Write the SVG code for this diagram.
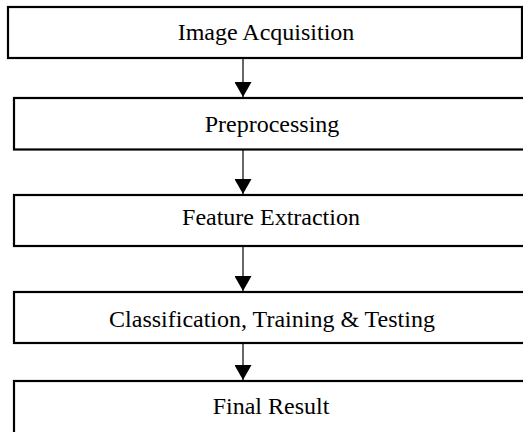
<svg xmlns="http://www.w3.org/2000/svg" width="523" height="432" viewBox="0 0 523 432">
<style>
.box{fill:#fff;stroke:#000;stroke-width:2.2}
.lbl{font-family:"Liberation Serif","Times New Roman",serif;font-size:24px;fill:#000;text-anchor:middle}
.conn{stroke:#000;stroke-width:1.2;fill:none}
</style>
<defs>
<marker id="ah" markerWidth="15" markerHeight="17" refX="15" refY="8.5" orient="auto" markerUnits="userSpaceOnUse">
<path d="M0,0 L15,8.5 L0,17 Z" fill="#000"/>
</marker>
</defs>
<rect width="523" height="432" fill="#fff"/>
<g id="n1"><rect class="box" x="8" y="7" width="514" height="51"/><text class="lbl" x="266" y="40">Image Acquisition</text></g>
<g id="n2"><rect class="box" x="14" y="98" width="520" height="51.5"/><text class="lbl" x="272" y="132">Preprocessing</text></g>
<g id="n3"><rect class="box" x="14" y="195" width="520" height="51"/><text class="lbl" x="271" y="225">Feature Extraction</text></g>
<g id="n4"><rect class="box" x="14" y="292" width="520" height="51"/><text class="lbl" x="272" y="327">Classification, Training &amp; Testing</text></g>
<g id="n5"><rect class="box" x="14" y="381" width="520" height="60"/><text class="lbl" x="271" y="414">Final Result</text></g>
<g id="connectors">
<line class="conn" x1="243" y1="58" x2="243" y2="97" marker-end="url(#ah)"/>
<line class="conn" x1="243" y1="149.5" x2="243" y2="194" marker-end="url(#ah)"/>
<line class="conn" x1="243" y1="246" x2="243" y2="291" marker-end="url(#ah)"/>
<line class="conn" x1="243" y1="343" x2="243" y2="380" marker-end="url(#ah)"/>
</g>
</svg>
